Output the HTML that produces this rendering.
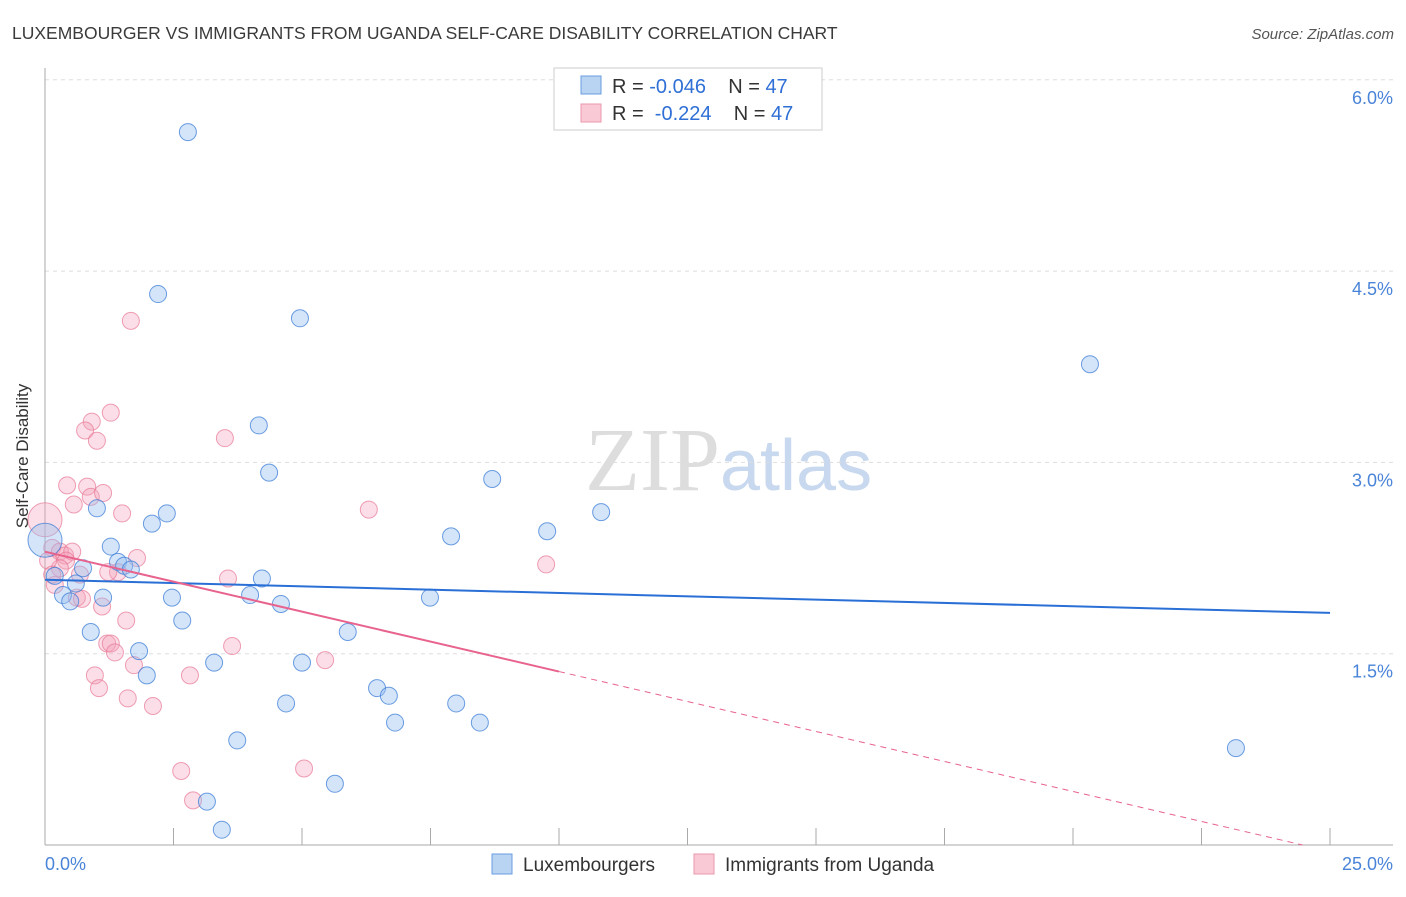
<!DOCTYPE html>
<html><head><meta charset="utf-8"><style>
body{margin:0;background:#fff;font-family:"Liberation Sans",sans-serif}
</style></head><body>
<svg width="1406" height="892" xmlns="http://www.w3.org/2000/svg" id="svg" font-family="Liberation Sans, sans-serif">
<text x="12" y="39" font-size="17.5" fill="#3a3a3a">LUXEMBOURGER VS IMMIGRANTS FROM UGANDA SELF-CARE DISABILITY CORRELATION CHART</text>
<text x="1394" y="39" font-size="15" fill="#555" text-anchor="end" font-style="italic">Source: ZipAtlas.com</text>
<text x="720" y="490" font-size="90" fill="#ddd" text-anchor="end" font-family="Liberation Serif, serif">ZIP</text>
<text x="720" y="490" font-size="72" fill="#c8d8ee">atlas</text>
<text x="28" y="456" font-size="17" fill="#333" text-anchor="middle" transform="rotate(-90 28 456)">Self-Care Disability</text>
<g id="grid"></g><g id="pts"></g><g id="lines"></g>
<g>
<rect x="554" y="68" width="268" height="62" fill="#fff" stroke="#ccc"/>
<rect x="581" y="76" width="20" height="18" fill="#b9d3f3" stroke="#6a9ee0"/>
<rect x="581" y="104" width="20" height="18" fill="#f9c9d6" stroke="#eb97ad"/>
<text x="612" y="93" font-size="20" fill="#333" xml:space="preserve">R = <tspan fill="#2f6fd6">-0.046</tspan>    N = <tspan fill="#2f6fd6">47</tspan></text>
<text x="612" y="120" font-size="20" fill="#333" xml:space="preserve">R =  <tspan fill="#2f6fd6">-0.224</tspan>    N = <tspan fill="#2f6fd6">47</tspan></text>
</g>
<g>
<rect x="492" y="854" width="20" height="20" fill="#b9d3f3" stroke="#6a9ee0"/>
<text x="523" y="871" font-size="19" fill="#333">Luxembourgers</text>
<rect x="694" y="854" width="20" height="20" fill="#f9c9d6" stroke="#eb97ad"/>
<text x="725" y="871" font-size="19" fill="#333">Immigrants from Uganda</text>
</g>
</svg>
<script>
const blueX=[2.78,2.20,4.96,20.33,4.16,4.36,8.70,1.01,2.37,2.08,10.82,9.77,7.90,1.28,1.42,1.54,1.67,0.74,0.19,0.60,4.22,3.99,2.47,4.59,0.35,0.49,1.13,7.49,2.67,0.89,5.89,1.83,3.29,5.00,1.98,6.46,6.69,4.69,8.00,6.81,8.46,3.74,23.17,5.64,3.15,3.44,0.0];
const blueY=[5.59,4.32,4.13,3.77,3.29,2.92,2.87,2.64,2.60,2.52,2.61,2.46,2.42,2.34,2.22,2.19,2.16,2.17,2.11,2.05,2.09,1.96,1.94,1.89,1.96,1.91,1.94,1.94,1.76,1.67,1.67,1.52,1.43,1.43,1.33,1.23,1.17,1.11,1.11,0.96,0.96,0.82,0.76,0.48,0.34,0.12,2.39];
const pinkX=[1.67,1.28,0.91,0.78,1.01,3.50,0.43,0.82,0.89,1.13,0.56,1.50,6.30,0,0.14,0.29,0.39,0.53,0.41,1.79,9.75,1.42,3.56,1.23,0.19,0.62,0.72,1.11,1.58,1.21,1.28,3.64,1.36,5.45,1.73,0.97,2.82,1.05,1.61,2.10,2.65,5.04,2.88,0.29,0.68,0.06,0.14];
const pinkY=[4.11,3.39,3.32,3.25,3.17,3.19,2.82,2.81,2.73,2.76,2.67,2.60,2.63,2.55,2.33,2.30,2.27,2.30,2.23,2.25,2.20,2.14,2.09,2.14,2.04,1.94,1.93,1.87,1.76,1.58,1.58,1.56,1.51,1.45,1.41,1.33,1.33,1.23,1.15,1.09,0.58,0.60,0.35,2.17,2.12,2.23,2.12];
const yTicks=[1.5,3.0,4.5,6.0];
const xTickLabels=["0.0%","25.0%"];
const blueTrend=[2.08,1.82];
const pinkTrend=[2.30,-0.094];
const X=v=>45+v/25*1285, Y=v=>845-v/1.5*191.3;
const NS="http://www.w3.org/2000/svg";
function mk(t,a,p){const e=document.createElementNS(NS,t);for(const k in a)e.setAttribute(k,a[k]);p.appendChild(e);return e;}
const grid=document.getElementById('grid'),pts=document.getElementById('pts'),lines=document.getElementById('lines');
yTicks.forEach(v=>{
 const l=mk('line',{x1:45,x2:1393,y1:Y(v),y2:Y(v),stroke:'#ddd','stroke-dasharray':'4,4'},grid);
 
 
 const t=mk('text',{x:1393,y:Y(v)+24,'font-size':18,fill:'#4a84d8','text-anchor':'end'},grid);
 t.textContent=v.toFixed(1)+'%';
 
 
});
const ax=mk('line',{x1:45,x2:45,y1:68,y2:845,stroke:'#aaa'},grid);


const bx=mk('line',{x1:45,x2:1393,y1:845,y2:845,stroke:'#aaa'},grid);


for(let i=0;i<=10;i++){
 const tk=mk('line',{x1:X(i*2.5),x2:X(i*2.5),y1:828,y2:845,stroke:'#aaa'},grid);
 
 
}
[[0,'start',45],[25,'end',1393]].forEach((d,i)=>{
 const t=mk('text',{x:d[2],y:870,'font-size':18,fill:'#4a84d8','text-anchor':d[1]},grid);
 t.textContent=xTickLabels[i];
 
 
});
pinkX.forEach((x,i)=>{
 const c=mk('circle',{cx:X(x),cy:Y(pinkY[i]),r:i==13?17:8.5,fill:'rgba(244,160,185,0.35)',stroke:'rgba(232,120,150,0.7)','stroke-width':1},pts);
 
 
});
blueX.forEach((x,i)=>{
 const c=mk('circle',{cx:X(x),cy:Y(blueY[i]),r:i==46?17:8.5,fill:'rgba(150,190,240,0.4)',stroke:'rgba(60,125,215,0.75)','stroke-width':1},pts);
 
 
});
const bl=mk('line',{x1:X(0),y1:Y(blueTrend[0]),x2:X(25),y2:Y(blueTrend[1]),stroke:'#2a6fd6','stroke-width':2},lines);


const pe=10.0, pz=-pinkTrend[0]/pinkTrend[1];
const pl=mk('line',{x1:X(0),y1:Y(pinkTrend[0]),x2:X(pe),y2:Y(pinkTrend[0]+pinkTrend[1]*pe),stroke:'#e8638d','stroke-width':2},lines);


const pd=mk('line',{x1:X(pe),y1:Y(pinkTrend[0]+pinkTrend[1]*pe),x2:X(pz),y2:Y(0),stroke:'#e8638d','stroke-width':1,'stroke-dasharray':'6,5'},lines);


</script>
</body></html>
